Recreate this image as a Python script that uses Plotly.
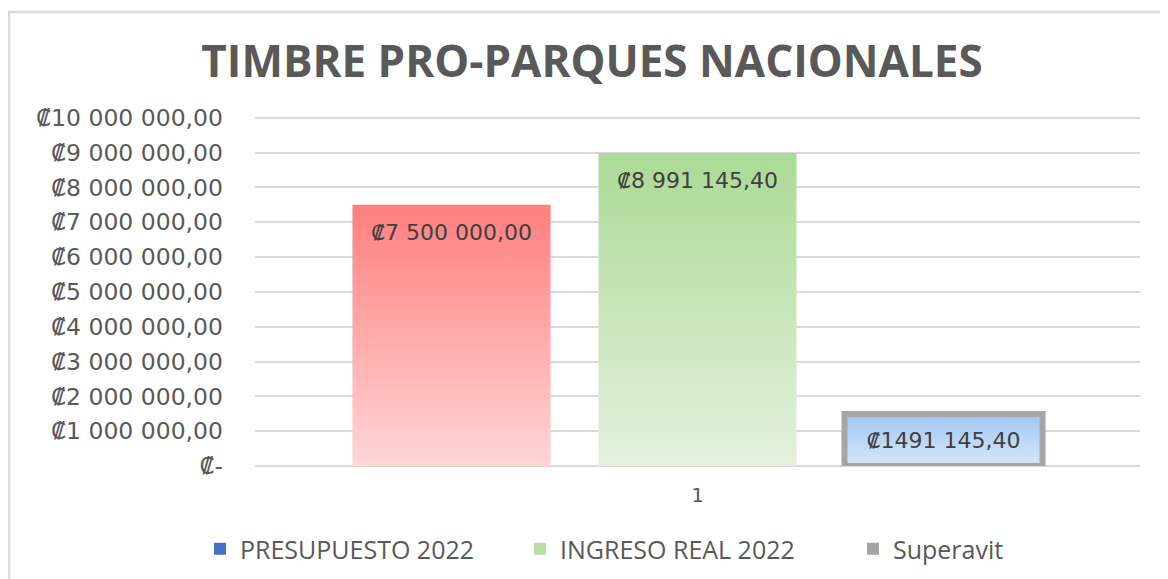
import plotly.graph_objects as go

# ---- data ----
category = ["1"]
series_names = ["PRESUPUESTO 2022", "INGRESO REAL 2022", "Superavit"]
series_values = [7500000.00, 8991145.40, 1491145.40]
value_labels = ["₡7 500 000,00", "₡8 991 145,40", "₡1491 145,40"]
tick_values = [0, 1000000, 2000000, 3000000, 4000000, 5000000,
               6000000, 7000000, 8000000, 9000000, 10000000]
tick_labels = ["₡-", "₡1 000 000,00", "₡2 000 000,00", "₡3 000 000,00",
               "₡4 000 000,00", "₡5 000 000,00", "₡6 000 000,00",
               "₡7 000 000,00", "₡8 000 000,00", "₡9 000 000,00",
               "₡10 000 000,00"]
title_text = "TIMBRE PRO-PARQUES NACIONALES"

# ---- styles ----
# the page body adds an 8px offset, so the figure is sized to the visible area
W, H = 1160, 571
ML, MR, MT, MB = 247, 28, 108, 113
Y_TOP = 10050000
BARGAP, BARGROUPGAP = 0.166, 0.195
grad_top = ["#FF7F7F", "#ABDA96", "#A0C6F4"]
grad_bottom = ["#FFD6D6", "#E5F1DE", "#D8E7F9"]
bar_line = ["rgba(0,0,0,0)", "rgba(0,0,0,0)", "#A6A6A6"]
bar_line_w = [0, 0, 6]
legend_swatch = ["#4472C4", "#B9DFA6", "#A5A5A5"]
legend_left_px = [192, 512, 845]
legend_ids = ["legend", "legend2", "legend3"]
label_inside_top = [True, True, False]   # label near top (annotation) vs centred in bar
LABEL_DROP = 28                          # px below bar top for top labels
TXT = "#595959"
LABEL_FONT = dict(family="DejaVu Sans", size=22, color="#404040")

fig = go.Figure()

# gradient fills for each bar, on a hidden linear x axis that matches the
# category axis geometry (one category spanning -0.5..0.5)
n = len(series_names)
slot = (1 - BARGAP) / n
bw = slot * (1 - BARGROUPGAP)
centers = [(i - (n - 1) / 2) * slot for i in range(n)]
for i in range(n):
    c = centers[i]
    v = series_values[i]
    fig.add_trace(go.Scatter(
        x=[c - bw / 2, c + bw / 2, c + bw / 2, c - bw / 2, c - bw / 2],
        y=[0, 0, v, v, 0],
        mode="none", fill="toself",
        fillgradient=dict(type="vertical",
                          colorscale=[[0, grad_bottom[i]], [1, grad_top[i]]]),
        xaxis="x", yaxis="y", showlegend=False, hoverinfo="skip",
    ))

# the bars themselves (category axis), carrying borders and centred labels
for i, name in enumerate(series_names):
    fig.add_trace(go.Bar(
        x=category, y=[series_values[i]], name=name, xaxis="x2", yaxis="y",
        marker=dict(color="rgba(0,0,0,0)", line=dict(color=bar_line[i], width=bar_line_w[i])),
        text=[value_labels[i]],
        textposition="none" if label_inside_top[i] else "inside",
        insidetextanchor="middle", textangle=0,
        textfont=LABEL_FONT,
        showlegend=False, hoverinfo="skip",
    ))
    if label_inside_top[i]:
        fig.add_annotation(x=centers[i], y=series_values[i], xref="x", yref="y",
                           text=value_labels[i], showarrow=False,
                           yshift=-LABEL_DROP, xanchor="center", yanchor="middle",
                           font=LABEL_FONT)

# legend entries (Excel legend swatches), one legend box per entry
for i, name in enumerate(series_names):
    fig.add_trace(go.Scatter(
        x=[None], y=[None], mode="markers", name=name,
        marker=dict(symbol="square", size=12, color=legend_swatch[i]),
        showlegend=True, legend=legend_ids[i],
    ))

pw = W - ML - MR
ph = H - MT - MB
# outer chart border (top and left visible, rest outside the frame)
x0 = (1 - ML) / pw
x1 = (W + 10 - ML) / pw
y1 = (H - MB - 4) / ph
y0 = (H - MB - (H + 10)) / ph
fig.add_shape(type="rect", xref="paper", yref="paper", x0=x0, x1=x1, y0=y0, y1=y1,
              line=dict(color="#D9D9D9", width=2.5), fillcolor="rgba(0,0,0,0)", layer="below")

legend_common = dict(orientation="h", xref="container", yref="container",
                     xanchor="left", y=1 - 541 / H, yanchor="middle",
                     font=dict(family="Open Sans", size=25, color=TXT),
                     itemwidth=30, bgcolor="rgba(0,0,0,0)")
legend_layout = {}
for i, lid in enumerate(legend_ids):
    legend_layout[lid] = dict(legend_common, x=legend_left_px[i] / W)

fig.update_layout(
    width=W, height=H,
    margin=dict(l=ML, r=MR, t=MT, b=MB, autoexpand=False),
    paper_bgcolor="white", plot_bgcolor="white",
    barmode="group", bargap=BARGAP, bargroupgap=BARGROUPGAP,
    title=dict(text=title_text, x=584 / W, xanchor="center", xref="container",
               y=1 - 54 / H, yanchor="middle", yref="container",
               font=dict(family="Open Sans", size=44, color=TXT, weight="bold")),
    xaxis=dict(range=[-0.5, 0.5], showgrid=False, showline=False, zeroline=False,
               showticklabels=False, ticks="", automargin=False, fixedrange=True),
    xaxis2=dict(type="category", overlaying="x", anchor="y", side="bottom",
                range=[-0.5, 0.5],
                showgrid=False, showline=False, zeroline=False, automargin=False,
                tickfont=dict(family="DejaVu Sans", size=20, color=TXT),
                ticks="", ticklabelstandoff=15),
    yaxis=dict(range=[0, Y_TOP], tickvals=tick_values, ticktext=tick_labels,
               automargin=False,
               showgrid=True, gridcolor="#D9D9D9", gridwidth=1.5,
               zeroline=True, zerolinecolor="#D9D9D9", zerolinewidth=1.5,
               showline=False, ticks="", ticklabelstandoff=31,
               tickfont=dict(family="DejaVu Sans", size=23.5, color=TXT)),
    **legend_layout,
)

fig.write_html("out.html")
